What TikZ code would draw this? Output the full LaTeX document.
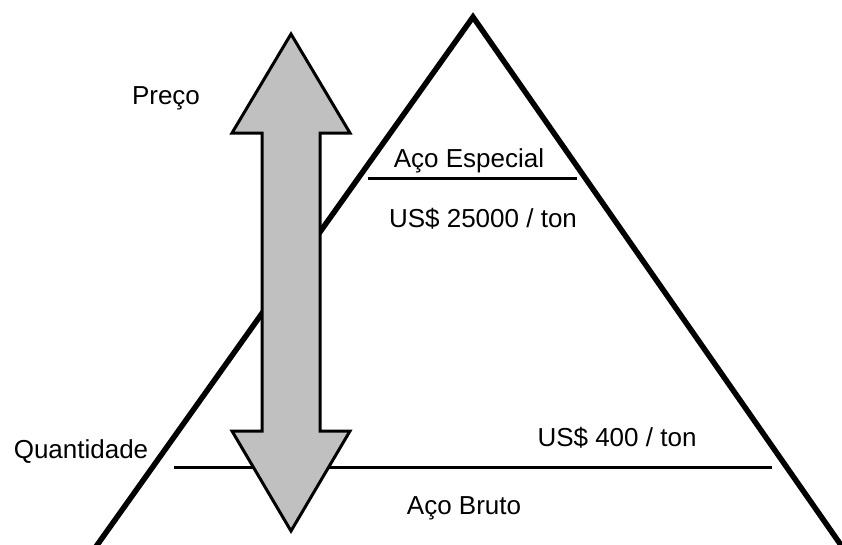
\documentclass[tikz,border=0pt]{standalone}
\usepackage{fontspec}
\setmainfont{Liberation Sans}
\usepackage{xcolor}
\usetikzlibrary{positioning, calc}
\definecolor{setacinza}{RGB}{192,192,192}

\begin{document}
\begin{tikzpicture}[x=1pt, y=-1pt] % 1 unidade = 1 pixel da figura

\tikzset{
  rotulo/.style={anchor=base, color=black, inner sep=0pt, font=\fontsize{26}{30}\selectfont},
  nivel/.style={line width=3pt, black},
  seta/.style={line width=3pt, black, fill=setacinza, line join=miter}
}

\useasboundingbox (0,0) rectangle (842,544);

% piramide (aberta em baixo)
\coordinate (topo) at (473,17);
\coordinate (baseE) at (95,548);
\coordinate (baseD) at (843,548);
\draw[line width=5.5pt, line join=miter] (baseE) -- (topo) -- (baseD);

% niveis de preco
\coordinate (especialE) at (368,178);
\coordinate (especialD) at (577,178);
\draw[nivel] (especialE) -- (especialD);
\coordinate (brutoE) at (174,467);
\coordinate (brutoD) at (772,467);
\draw[nivel] (brutoE) -- (brutoD);

% seta dupla preco / quantidade
\draw[seta] (291,34) -- (350,133) -- (320,133) -- (320,431) -- (350,431)
  -- (291,531) -- (232,431) -- (262,431) -- (262,133) -- (232,133) -- cycle;

\node[rotulo] (preco) at (166,104) {Preço};
\node[rotulo] (quantidade) at (81,458) {Quantidade};
\node[rotulo] (especial) at (469,167) {Aço Especial};
\node[rotulo] (pespecial) at (483,227) {US\$ 25000 / ton};
\node[rotulo] (pbruto) at (617,446) {US\$ 400 / ton};
\node[rotulo] (bruto) at (464,514) {Aço Bruto};

\end{tikzpicture}
\end{document}
